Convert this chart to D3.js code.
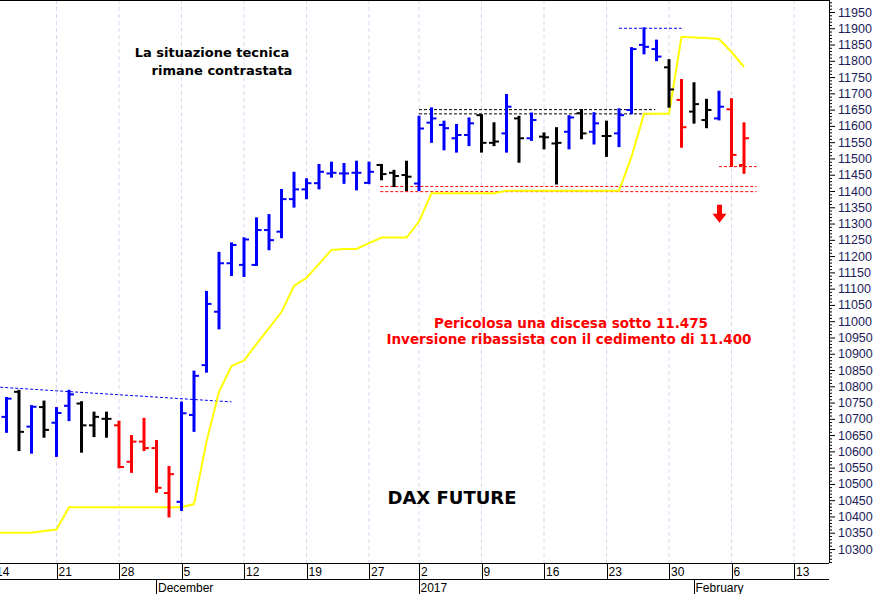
<!DOCTYPE html>
<html><head><meta charset="utf-8">
<script src="https://cdn.jsdelivr.net/npm/d3@7"></script>
<style>body{margin:0;background:#fff}svg{display:block}</style>
</head><body><svg id="c" width="876" height="594"></svg>
<script>
// trading-day index (0 = 21 Nov 2016)
const barIndex = d3.range(-4, 56);
const opens  = [10706,10783,10676,10736,10688,10740,10747,10680,10700,10680,10568,10630,10610,10472,10445,10712,10865,11029,11178,11173,11173,11280,11275,11375,11405,11424,11454,11454,11456,11425,11480,11456,11449,11423,11610,11603,11562,11572,11633,11548,11577,11623,11562,11567,11546,11582,11639,11582,11569,11577,11649,11849,11836,11780,11680,11644,11618,11623,11651,11480];
const highs  = [10764,10786,10739,10753,10733,10786,10751,10719,10719,10691,10647,10700,10632,10552,10750,10845,11090,11210,11239,11255,11316,11326,11403,11456,11436,11480,11487,11483,11490,11487,11480,11462,11490,11628,11654,11613,11603,11623,11633,11608,11695,11628,11638,11577,11593,11630,11649,11639,11613,11651,11839,11900,11862,11802,11741,11731,11680,11705,11682,11608];
const lows   = [10660,10604,10596,10645,10586,10696,10599,10647,10645,10551,10537,10604,10476,10400,10420,10663,10845,10978,11142,11139,11173,11221,11258,11352,11378,11408,11444,11425,11405,11424,11436,11415,11403,11403,11551,11528,11521,11541,11521,11541,11521,11490,11557,11531,11423,11531,11562,11546,11508,11538,11639,11823,11802,11659,11536,11610,11596,11620,11477,11456];
const closes = [10762,10660,10737,10666,10718,10775,10680,10706,10700,10552,10630,10610,10488,10530,10717,10832,11053,11178,11234,11251,11280,11249,11375,11405,11424,11459,11456,11454,11456,11459,11452,11446,11444,11592,11623,11593,11572,11608,11548,11552,11659,11562,11618,11565,11548,11626,11577,11608,11569,11633,11836,11843,11813,11712,11596,11667,11649,11659,11511,11562];
const colorCodes = "BKBKBBKKKRRRRRBBBBBBBBBBBBBBBBKKKBBBBBKKBKBKKBKBKBBBBKRKKBRR";
const stopIndex = d3.range(-5, 56);
const stopValues = [10350,10350,10350,10350,10355,10360,10428,10428,10428,10428,10428,10428,10428,10428,10428,10428,10438,10630,10783,10862,10879,10930,10979,11028,11108,11133,11176,11219,11222,11222,11240,11257,11257,11257,11306,11393,11393,11393,11393,11393,11393,11401,11401,11401,11401,11401,11401,11401,11401,11401,11401,11505,11637,11637,11637,11874,11872,11870,11867,11827,11781];
const dayTicks = [-5,0,5,10,15,20,25,29,34,39,44,49,54,59];
const dayLabels = ["14","21","28","5","12","19","27","2","9","16","23","30","6","13"];
const monthTicks = [8,29,51];
const monthLabels = ["December","2017","February"];
const priceTicks = d3.range(10300, 11951, 50);

const svg = d3.select("#c");
const X0=0, X1=829, Y0=0, Y1=563;
const x = d3.scaleLinear().domain([0,49]).range([56.5,669]);
const y = d3.scaleLinear().domain([10300,11950]).range([549,12]);
const colMap = {B:"#0000ff",K:"#000000",R:"#ff0000"};

svg.append("defs").append("clipPath").attr("id","cp").append("rect").attr("x",X0).attr("y",Y0).attr("width",X1-X0).attr("height",Y1-Y0);

// grid
svg.append("g").selectAll("line").data(dayTicks).join("line")
 .attr("x1",d=>x(d)).attr("x2",d=>x(d)).attr("y1",Y0).attr("y2",Y1)
 .attr("stroke","#d8d8f0").attr("stroke-dasharray","4,3");

const plot = svg.append("g").attr("clip-path","url(#cp)");

// reference lines
const refs = [
 {x1:-4.5,x2:14,v1:10797,v2:10752,c:"#0000ff",d:"3,2"},
 {x1:29,x2:47.9,v1:11650,v2:11650,c:"#000",d:"3,2"},
 {x1:29,x2:47.9,v1:11637,v2:11637,c:"#000",d:"3,2"},
 {x1:25.9,x2:56,v1:11414,v2:11414,c:"#ff0000",d:"3,2"},
 {x1:25.9,x2:56,v1:11398,v2:11398,c:"#ff0000",d:"3,2"},
 {x1:45,x2:50,v1:11900,v2:11900,c:"#0000ff",d:"3,2"},
 {x1:53,x2:56,v1:11475,v2:11475,c:"#ff0000",d:"3,2"}
];
plot.selectAll("line.ref").data(refs).join("line").attr("class","ref")
 .attr("x1",d=>x(d.x1)).attr("x2",d=>x(d.x2)).attr("y1",d=>y(d.v1)).attr("y2",d=>y(d.v2))
 .attr("stroke",d=>d.c).attr("stroke-width",1).attr("stroke-dasharray",d=>d.d);

// yellow stop line
plot.append("path").datum(stopIndex.map((d,i)=>[d,stopValues[i]]))
 .attr("d",d3.line().x(d=>x(d[0])).y(d=>y(d[1])))
 .attr("fill","none").attr("stroke","#ffff00").attr("stroke-width",2);

// OHLC bars
const bars = barIndex.map((d,i)=>({i:d,o:opens[i],h:highs[i],l:lows[i],c:closes[i],col:colMap[colorCodes[i]]}));
const g = plot.selectAll("g.bar").data(bars).join("g").attr("class","bar").attr("stroke",d=>d.col).attr("stroke-width",3);
g.append("line").attr("x1",d=>x(d.i)).attr("x2",d=>x(d.i)).attr("y1",d=>y(d.h)-1).attr("y2",d=>y(d.l)+1);
g.append("line").attr("x1",d=>x(d.i)-5).attr("x2",d=>x(d.i)).attr("y1",d=>y(d.o)).attr("y2",d=>y(d.o)).attr("stroke-width",2);
g.append("line").attr("x1",d=>x(d.i)).attr("x2",d=>x(d.i)+5).attr("y1",d=>y(d.c)).attr("y2",d=>y(d.c)).attr("stroke-width",2);

// arrow
const ax = x(53)+0.5, ay = y(11330);
plot.append("path").attr("d",`M${ax-2.5},${ay-9}h5v9h4.5l-7,9l-7,-9h4.5z`).attr("fill","#ff0000");

// frame
svg.append("line").attr("x1",0).attr("x2",X1).attr("y1",0.5).attr("y2",0.5).attr("stroke","#000");
svg.append("line").attr("x1",X1+0.5).attr("x2",X1+0.5).attr("y1",0).attr("y2",Y1).attr("stroke","#000");

// right axis
const minor = d3.range(10250, 11981, 10).filter(d=>y(d)>0 && y(d)<Y1);
svg.append("g").selectAll("line").data(minor).join("line")
 .attr("x1",X1).attr("x2",d=>d%50===0?X1+6:X1+3).attr("y1",d=>y(d)+0.5).attr("y2",d=>y(d)+0.5)
 .attr("stroke","#000");
svg.append("g").selectAll("text").data(priceTicks).join("text")
 .attr("x",838).attr("y",d=>y(d)+4.5).text(d=>d)
 .attr("font-family","Liberation Sans, Arial").attr("font-size",12.5).attr("fill","#1c1c5a");

// date rows
svg.append("line").attr("x1",0).attr("x2",X1).attr("y1",Y1+0.5).attr("y2",Y1+0.5).attr("stroke","#000");
svg.append("line").attr("x1",0).attr("x2",X1).attr("y1",579.5).attr("y2",579.5).attr("stroke","#000");
svg.append("g").selectAll("line").data(dayTicks).join("line")
 .attr("x1",d=>Math.round(x(d))+0.5).attr("x2",d=>Math.round(x(d))+0.5).attr("y1",Y1).attr("y2",579).attr("stroke","#000");
svg.append("g").selectAll("text").data(dayTicks).join("text")
 .attr("x",d=>x(d)+2).attr("y",576).text((d,i)=>dayLabels[i])
 .attr("font-family","Liberation Sans, Arial").attr("font-size",12).attr("fill","#000");
svg.append("g").selectAll("line").data(monthTicks).join("line")
 .attr("x1",d=>Math.round(x(d)-0.5)+0.5).attr("x2",d=>Math.round(x(d)-0.5)+0.5).attr("y1",d=>d===29?563:579).attr("y2",594).attr("stroke","#000");
svg.append("g").selectAll("text").data(monthTicks).join("text")
 .attr("x",d=>x(d)+1.5).attr("y",592).text((d,i)=>monthLabels[i])
 .attr("font-family","Liberation Sans, Arial").attr("font-size",12).attr("fill","#000");

// annotations
const tf = "DejaVu Sans";
svg.append("text").attr("x",212).attr("y",57).attr("text-anchor","middle").attr("font-family",tf).attr("font-weight","bold").attr("font-size",13).text("La situazione tecnica");
svg.append("text").attr("x",222).attr("y",75).attr("text-anchor","middle").attr("font-family",tf).attr("font-weight","bold").attr("font-size",13).text("rimane contrastata");
svg.append("text").attr("x",571).attr("y",328).attr("text-anchor","middle").attr("font-family",tf).attr("font-weight","bold").attr("font-size",13.5).attr("fill","#ff0000").text("Pericolosa una discesa sotto 11.475");
svg.append("text").attr("x",569).attr("y",344).attr("text-anchor","middle").attr("font-family",tf).attr("font-weight","bold").attr("font-size",13.5).attr("fill","#ff0000").text("Inversione ribassista con il cedimento di 11.400");
svg.append("text").attr("x",452).attr("y",504).attr("text-anchor","middle").attr("font-family",tf).attr("font-weight","bold").attr("font-size",18).text("DAX FUTURE");
</script></body></html>
